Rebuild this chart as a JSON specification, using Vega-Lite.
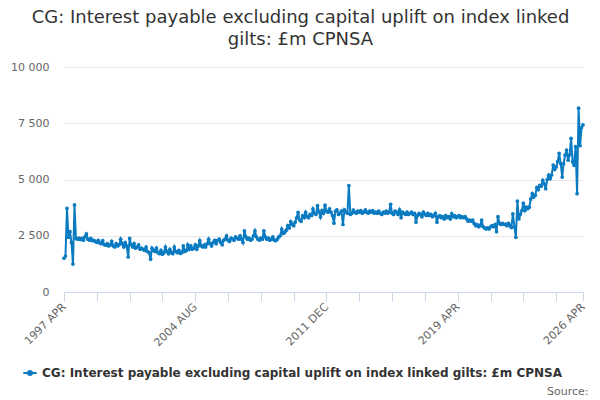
{
  "$schema": "https://vega.github.io/schema/vega-lite/v6.json",
  "width": 519,
  "height": 225,
  "autosize": "none",
  "padding": {"left": 64, "top": 67, "right": 17, "bottom": 108},
  "background": "white",
  "title": {
    "text": ["CG: Interest payable excluding capital uplift on index linked", "gilts: £m CPNSA"],
    "anchor": "middle",
    "dx": -23,
    "offset": 12,
    "fontSize": 18,
    "fontWeight": "normal",
    "color": "#333333",
    "lineHeight": 22
  },
  "data": {
    "values": [
      {"date": "1997-04", "value": 1500}, {"date": "1997-05", "value": 1600}, {"date": "1997-06", "value": 3720}, {"date": "1997-07", "value": 2430}, {"date": "1997-08", "value": 2680}, {"date": "1997-09", "value": 2200}, {"date": "1997-10", "value": 1240}, {"date": "1997-11", "value": 3870}, {"date": "1997-12", "value": 2380},
      {"date": "1998-01", "value": 2350}, {"date": "1998-02", "value": 2400}, {"date": "1998-03", "value": 2330}, {"date": "1998-04", "value": 2380}, {"date": "1998-05", "value": 2300}, {"date": "1998-06", "value": 2450}, {"date": "1998-07", "value": 2580}, {"date": "1998-08", "value": 2350}, {"date": "1998-09", "value": 2300}, {"date": "1998-10", "value": 2380}, {"date": "1998-11", "value": 2280}, {"date": "1998-12", "value": 2300},
      {"date": "1999-01", "value": 2250}, {"date": "1999-02", "value": 2200}, {"date": "1999-03", "value": 2300}, {"date": "1999-04", "value": 2180}, {"date": "1999-05", "value": 2150}, {"date": "1999-06", "value": 2280}, {"date": "1999-07", "value": 2100}, {"date": "1999-08", "value": 2080}, {"date": "1999-09", "value": 2150}, {"date": "1999-10", "value": 2050}, {"date": "1999-11", "value": 2100}, {"date": "1999-12", "value": 2250},
      {"date": "2000-01", "value": 2050}, {"date": "2000-02", "value": 2000}, {"date": "2000-03", "value": 2150}, {"date": "2000-04", "value": 2050}, {"date": "2000-05", "value": 2100}, {"date": "2000-06", "value": 2350}, {"date": "2000-07", "value": 2150}, {"date": "2000-08", "value": 2000}, {"date": "2000-09", "value": 2200}, {"date": "2000-10", "value": 2050}, {"date": "2000-11", "value": 1560}, {"date": "2000-12", "value": 2380},
      {"date": "2001-01", "value": 2100}, {"date": "2001-02", "value": 2000}, {"date": "2001-03", "value": 2150}, {"date": "2001-04", "value": 1950}, {"date": "2001-05", "value": 2000}, {"date": "2001-06", "value": 2100}, {"date": "2001-07", "value": 1900}, {"date": "2001-08", "value": 1950}, {"date": "2001-09", "value": 1900}, {"date": "2001-10", "value": 1850}, {"date": "2001-11", "value": 2000}, {"date": "2001-12", "value": 1800},
      {"date": "2002-01", "value": 1750}, {"date": "2002-02", "value": 1460}, {"date": "2002-03", "value": 1950}, {"date": "2002-04", "value": 1850}, {"date": "2002-05", "value": 1800}, {"date": "2002-06", "value": 1950}, {"date": "2002-07", "value": 1750}, {"date": "2002-08", "value": 1700}, {"date": "2002-09", "value": 1850}, {"date": "2002-10", "value": 1680}, {"date": "2002-11", "value": 1750}, {"date": "2002-12", "value": 2000},
      {"date": "2003-01", "value": 1800}, {"date": "2003-02", "value": 1700}, {"date": "2003-03", "value": 1900}, {"date": "2003-04", "value": 1750}, {"date": "2003-05", "value": 1700}, {"date": "2003-06", "value": 2000}, {"date": "2003-07", "value": 1800}, {"date": "2003-08", "value": 1750}, {"date": "2003-09", "value": 1850}, {"date": "2003-10", "value": 1720}, {"date": "2003-11", "value": 1750}, {"date": "2003-12", "value": 2050},
      {"date": "2004-01", "value": 1800}, {"date": "2004-02", "value": 1850}, {"date": "2004-03", "value": 2100}, {"date": "2004-04", "value": 1900}, {"date": "2004-05", "value": 2050}, {"date": "2004-06", "value": 1900}, {"date": "2004-07", "value": 1950}, {"date": "2004-08", "value": 2100}, {"date": "2004-09", "value": 1900}, {"date": "2004-10", "value": 2050}, {"date": "2004-11", "value": 2280}, {"date": "2004-12", "value": 2050},
      {"date": "2005-01", "value": 2000}, {"date": "2005-02", "value": 2100}, {"date": "2005-03", "value": 2000}, {"date": "2005-04", "value": 2150}, {"date": "2005-05", "value": 2350}, {"date": "2005-06", "value": 2150}, {"date": "2005-07", "value": 2050}, {"date": "2005-08", "value": 2200}, {"date": "2005-09", "value": 2300}, {"date": "2005-10", "value": 2150}, {"date": "2005-11", "value": 2300}, {"date": "2005-12", "value": 2350},
      {"date": "2006-01", "value": 2200}, {"date": "2006-02", "value": 2100}, {"date": "2006-03", "value": 2300}, {"date": "2006-04", "value": 2350}, {"date": "2006-05", "value": 2500}, {"date": "2006-06", "value": 2300}, {"date": "2006-07", "value": 2250}, {"date": "2006-08", "value": 2400}, {"date": "2006-09", "value": 2350}, {"date": "2006-10", "value": 2300}, {"date": "2006-11", "value": 2450}, {"date": "2006-12", "value": 2400},
      {"date": "2007-01", "value": 2350}, {"date": "2007-02", "value": 2500}, {"date": "2007-03", "value": 2350}, {"date": "2007-04", "value": 2200}, {"date": "2007-05", "value": 2720}, {"date": "2007-06", "value": 2450}, {"date": "2007-07", "value": 2350}, {"date": "2007-08", "value": 2400}, {"date": "2007-09", "value": 2300}, {"date": "2007-10", "value": 2350}, {"date": "2007-11", "value": 2500}, {"date": "2007-12", "value": 2720},
      {"date": "2008-01", "value": 2450}, {"date": "2008-02", "value": 2350}, {"date": "2008-03", "value": 2300}, {"date": "2008-04", "value": 2400}, {"date": "2008-05", "value": 2350}, {"date": "2008-06", "value": 2720}, {"date": "2008-07", "value": 2450}, {"date": "2008-08", "value": 2350}, {"date": "2008-09", "value": 2400}, {"date": "2008-10", "value": 2300}, {"date": "2008-11", "value": 2350}, {"date": "2008-12", "value": 2450},
      {"date": "2009-01", "value": 2300}, {"date": "2009-02", "value": 2280}, {"date": "2009-03", "value": 2350}, {"date": "2009-04", "value": 2450}, {"date": "2009-05", "value": 2500}, {"date": "2009-06", "value": 2800}, {"date": "2009-07", "value": 2600}, {"date": "2009-08", "value": 2650}, {"date": "2009-09", "value": 2750}, {"date": "2009-10", "value": 2950}, {"date": "2009-11", "value": 2850}, {"date": "2009-12", "value": 3125},
      {"date": "2010-01", "value": 3000}, {"date": "2010-02", "value": 2950}, {"date": "2010-03", "value": 3100}, {"date": "2010-04", "value": 3300}, {"date": "2010-05", "value": 3540}, {"date": "2010-06", "value": 3200}, {"date": "2010-07", "value": 3150}, {"date": "2010-08", "value": 3390}, {"date": "2010-09", "value": 3300}, {"date": "2010-10", "value": 3540}, {"date": "2010-11", "value": 3350}, {"date": "2010-12", "value": 3300},
      {"date": "2011-01", "value": 3450}, {"date": "2011-02", "value": 3400}, {"date": "2011-03", "value": 3690}, {"date": "2011-04", "value": 3500}, {"date": "2011-05", "value": 3450}, {"date": "2011-06", "value": 3840}, {"date": "2011-07", "value": 3560}, {"date": "2011-08", "value": 3330}, {"date": "2011-09", "value": 3620}, {"date": "2011-10", "value": 3500}, {"date": "2011-11", "value": 3860}, {"date": "2011-12", "value": 3600},
      {"date": "2012-01", "value": 3550}, {"date": "2012-02", "value": 3700}, {"date": "2012-03", "value": 3550}, {"date": "2012-04", "value": 3400}, {"date": "2012-05", "value": 3060}, {"date": "2012-06", "value": 3600}, {"date": "2012-07", "value": 3650}, {"date": "2012-08", "value": 3450}, {"date": "2012-09", "value": 3500}, {"date": "2012-10", "value": 3600}, {"date": "2012-11", "value": 3000}, {"date": "2012-12", "value": 3650},
      {"date": "2013-01", "value": 3550}, {"date": "2013-02", "value": 3500}, {"date": "2013-03", "value": 4730}, {"date": "2013-04", "value": 3450}, {"date": "2013-05", "value": 3500}, {"date": "2013-06", "value": 3640}, {"date": "2013-07", "value": 3550}, {"date": "2013-08", "value": 3500}, {"date": "2013-09", "value": 3600}, {"date": "2013-10", "value": 3550}, {"date": "2013-11", "value": 3620}, {"date": "2013-12", "value": 3500},
      {"date": "2014-01", "value": 3550}, {"date": "2014-02", "value": 3650}, {"date": "2014-03", "value": 3550}, {"date": "2014-04", "value": 3500}, {"date": "2014-05", "value": 3600}, {"date": "2014-06", "value": 3550}, {"date": "2014-07", "value": 3620}, {"date": "2014-08", "value": 3500}, {"date": "2014-09", "value": 3550}, {"date": "2014-10", "value": 3500}, {"date": "2014-11", "value": 3600}, {"date": "2014-12", "value": 3500},
      {"date": "2015-01", "value": 3450}, {"date": "2015-02", "value": 3550}, {"date": "2015-03", "value": 3500}, {"date": "2015-04", "value": 3600}, {"date": "2015-05", "value": 3500}, {"date": "2015-06", "value": 3550}, {"date": "2015-07", "value": 3900}, {"date": "2015-08", "value": 3500}, {"date": "2015-09", "value": 3450}, {"date": "2015-10", "value": 3600}, {"date": "2015-11", "value": 3550}, {"date": "2015-12", "value": 3450},
      {"date": "2016-01", "value": 3650}, {"date": "2016-02", "value": 3300}, {"date": "2016-03", "value": 3550}, {"date": "2016-04", "value": 3500}, {"date": "2016-05", "value": 3450}, {"date": "2016-06", "value": 3550}, {"date": "2016-07", "value": 3450}, {"date": "2016-08", "value": 3500}, {"date": "2016-09", "value": 3550}, {"date": "2016-10", "value": 3450}, {"date": "2016-11", "value": 3500}, {"date": "2016-12", "value": 3100},
      {"date": "2017-01", "value": 3400}, {"date": "2017-02", "value": 3500}, {"date": "2017-03", "value": 3450}, {"date": "2017-04", "value": 3350}, {"date": "2017-05", "value": 3550}, {"date": "2017-06", "value": 3450}, {"date": "2017-07", "value": 3400}, {"date": "2017-08", "value": 3500}, {"date": "2017-09", "value": 3400}, {"date": "2017-10", "value": 3450}, {"date": "2017-11", "value": 3350}, {"date": "2017-12", "value": 3400},
      {"date": "2018-01", "value": 3500}, {"date": "2018-02", "value": 3100}, {"date": "2018-03", "value": 3350}, {"date": "2018-04", "value": 3400}, {"date": "2018-05", "value": 3300}, {"date": "2018-06", "value": 3350}, {"date": "2018-07", "value": 3250}, {"date": "2018-08", "value": 3400}, {"date": "2018-09", "value": 3300}, {"date": "2018-10", "value": 3350}, {"date": "2018-11", "value": 3250}, {"date": "2018-12", "value": 3480},
      {"date": "2019-01", "value": 3350}, {"date": "2019-02", "value": 3400}, {"date": "2019-03", "value": 3300}, {"date": "2019-04", "value": 3350}, {"date": "2019-05", "value": 3400}, {"date": "2019-06", "value": 3300}, {"date": "2019-07", "value": 3350}, {"date": "2019-08", "value": 3300}, {"date": "2019-09", "value": 3350}, {"date": "2019-10", "value": 3250}, {"date": "2019-11", "value": 3150}, {"date": "2019-12", "value": 3200},
      {"date": "2020-01", "value": 3150}, {"date": "2020-02", "value": 3200}, {"date": "2020-03", "value": 3050}, {"date": "2020-04", "value": 2950}, {"date": "2020-05", "value": 3000}, {"date": "2020-06", "value": 2900}, {"date": "2020-07", "value": 2950}, {"date": "2020-08", "value": 3200}, {"date": "2020-09", "value": 2900}, {"date": "2020-10", "value": 2850}, {"date": "2020-11", "value": 2800}, {"date": "2020-12", "value": 2850},
      {"date": "2021-01", "value": 2800}, {"date": "2021-02", "value": 2900}, {"date": "2021-03", "value": 2950}, {"date": "2021-04", "value": 2900}, {"date": "2021-05", "value": 3000}, {"date": "2021-06", "value": 2680}, {"date": "2021-07", "value": 3350}, {"date": "2021-08", "value": 3050}, {"date": "2021-09", "value": 3000}, {"date": "2021-10", "value": 3050}, {"date": "2021-11", "value": 3000}, {"date": "2021-12", "value": 3020},
      {"date": "2022-01", "value": 2950}, {"date": "2022-02", "value": 3050}, {"date": "2022-03", "value": 2950}, {"date": "2022-04", "value": 2870}, {"date": "2022-05", "value": 3470}, {"date": "2022-06", "value": 2900}, {"date": "2022-07", "value": 2430}, {"date": "2022-08", "value": 4040}, {"date": "2022-09", "value": 3250}, {"date": "2022-10", "value": 3450}, {"date": "2022-11", "value": 3620}, {"date": "2022-12", "value": 3950},
      {"date": "2023-01", "value": 3620}, {"date": "2023-02", "value": 3770}, {"date": "2023-03", "value": 3700}, {"date": "2023-04", "value": 3770}, {"date": "2023-05", "value": 4130}, {"date": "2023-06", "value": 4370}, {"date": "2023-07", "value": 4220}, {"date": "2023-08", "value": 4300}, {"date": "2023-09", "value": 4640}, {"date": "2023-10", "value": 4550}, {"date": "2023-11", "value": 4740}, {"date": "2023-12", "value": 4700},
      {"date": "2024-01", "value": 4960}, {"date": "2024-02", "value": 4810}, {"date": "2024-03", "value": 4590}, {"date": "2024-04", "value": 5000}, {"date": "2024-05", "value": 5190}, {"date": "2024-06", "value": 5040}, {"date": "2024-07", "value": 5200}, {"date": "2024-08", "value": 5640}, {"date": "2024-09", "value": 5450}, {"date": "2024-10", "value": 5560}, {"date": "2024-11", "value": 5800}, {"date": "2024-12", "value": 6160},
      {"date": "2025-01", "value": 5710}, {"date": "2025-02", "value": 5110}, {"date": "2025-03", "value": 5700}, {"date": "2025-04", "value": 6080}, {"date": "2025-05", "value": 6310}, {"date": "2025-06", "value": 5860}, {"date": "2025-07", "value": 6100}, {"date": "2025-08", "value": 6830}, {"date": "2025-09", "value": 5780}, {"date": "2025-10", "value": 5630}, {"date": "2025-11", "value": 6460}, {"date": "2025-12", "value": 4370},
      {"date": "2026-01", "value": 8170}, {"date": "2026-02", "value": 6500}, {"date": "2026-03", "value": 7300}, {"date": "2026-04", "value": 7430}
    ]
  },
  "mark": {
    "type": "line",
    "strokeWidth": 2,
    "point": {"filled": true, "size": 14}
  },
  "encoding": {
    "x": {
      "field": "date",
      "type": "temporal",
      "scale": {
        "type": "utc",
        "nice": false,
        "domain": [
          {"year": 1997, "month": 4, "utc": true},
          {"year": 2026, "month": 4, "utc": true}
        ]
      },
      "axis": {
        "title": "Source:",
        "titleAnchor": "end",
        "titleAlign": "right",
        "titleX": 524,
        "titleY": 102,
        "titleBaseline": "alphabetic",
        "titleFontSize": 11,
        "titleFontWeight": "normal",
        "titleColor": "#666666",
        "grid": false,
        "domainColor": "#ccd6eb",
        "tickColor": "#ccd6eb",
        "tickSize": 9,
        "labelAngle": -45,
        "labelAlign": "right",
        "labelBaseline": "middle",
        "labelPadding": 4,
        "labelFontSize": 11,
        "labelColor": "#666666",
        "labelOverlap": false,
        "values": [
          {"year": 1997, "month": 4, "utc": true},
          {"year": 1999, "month": 2, "utc": true},
          {"year": 2000, "month": 12, "utc": true},
          {"year": 2002, "month": 10, "utc": true},
          {"year": 2004, "month": 8, "utc": true},
          {"year": 2006, "month": 6, "utc": true},
          {"year": 2008, "month": 4, "utc": true},
          {"year": 2010, "month": 2, "utc": true},
          {"year": 2011, "month": 12, "utc": true},
          {"year": 2013, "month": 10, "utc": true},
          {"year": 2015, "month": 8, "utc": true},
          {"year": 2017, "month": 6, "utc": true},
          {"year": 2019, "month": 4, "utc": true},
          {"year": 2021, "month": 2, "utc": true},
          {"year": 2022, "month": 12, "utc": true},
          {"year": 2024, "month": 10, "utc": true},
          {"year": 2026, "month": 4, "utc": true}
        ],
        "labelExpr": "indexof(['1997 APR', '2004 AUG', '2011 DEC', '2019 APR', '2026 APR'], upper(utcFormat(datum.value, '%Y %b'))) >= 0 ? upper(utcFormat(datum.value, '%Y %b')) : ''"
      }
    },
    "y": {
      "field": "value",
      "type": "quantitative",
      "scale": {"domain": [0, 10000], "nice": false},
      "axis": {
        "title": null,
        "values": [0, 2500, 5000, 7500, 10000],
        "labelExpr": "replace(format(datum.value, ','), ',', ' ')",
        "domain": false,
        "ticks": false,
        "gridColor": "#e6e6e6",
        "labelPadding": 15,
        "labelFontSize": 11,
        "labelColor": "#666666"
      }
    },
    "color": {
      "datum": "CG: Interest payable excluding capital uplift on index linked gilts: £m CPNSA",
      "type": "nominal",
      "scale": {"range": ["#0b7bc1"]},
      "legend": {
        "title": null,
        "orient": "none",
        "legendX": -42,
        "legendY": 298,
        "symbolType": "M-1,0H1M-0.3,0A0.3,0.3,0,1,1,0.3,0A0.3,0.3,0,1,1,-0.3,0Z",
        "symbolSize": 180,
        "labelFontSize": 12,
        "labelFontWeight": "bold",
        "labelColor": "#333333",
        "labelLimit": 600,
        "encode": {
          "symbols": {
            "update": {
              "stroke": {"value": "#0b7bc1"},
              "strokeWidth": {"value": 2},
              "fill": {"value": "#0b7bc1"},
              "opacity": {"value": 1}
            }
          }
        }
      }
    }
  },
  "config": {
    "font": "DejaVu Sans",
    "view": {"stroke": null}
  }
}
